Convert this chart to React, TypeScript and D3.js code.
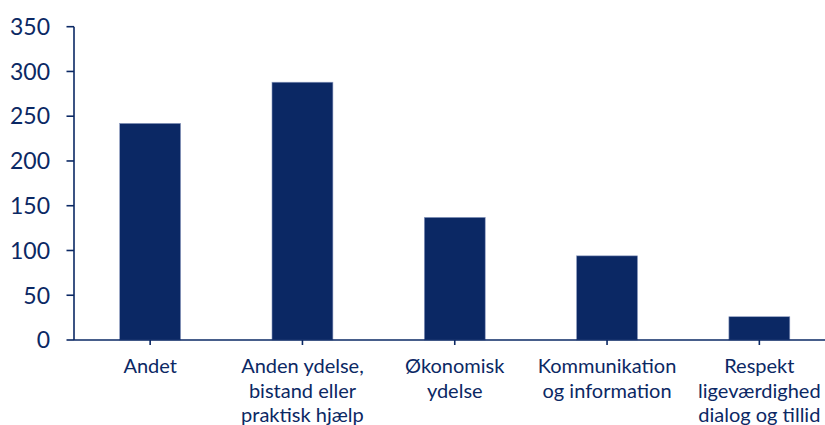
import React from "react";
import * as d3 from "d3";

const categories: string[][] = [
  ["Andet"],
  ["Anden ydelse,", "bistand eller", "praktisk hjælp"],
  ["Økonomisk", "ydelse"],
  ["Kommunikation", "og information"],
  ["Respekt", "ligeværdighed", "dialog og tillid"],
];
const values: number[] = [242, 288, 137, 94, 26];
const yTicks: number[] = [0, 50, 100, 150, 200, 250, 300, 350];

const W = 825;
const H = 425;
const NAVY = "#0b2864";
const FONT = "Lato, 'Open Sans', sans-serif";

export default function App() {
  const keys = categories.map((c) => c.join(" "));
  const x = d3
    .scaleBand<string>()
    .domain(keys)
    .range([74, 835.5])
    .paddingInner(0.6)
    .paddingOuter(0.3);
  const y = d3.scaleLinear().domain([0, 350]).range([340, 26.7]);

  return (
    <svg
      width={W}
      height={H}
      style={{ position: "absolute", left: 0, top: 0, background: "#fff" }}
    >
      {/* bars */}
      {values.map((v, i) => (
        <rect
          key={keys[i]}
          x={x(keys[i])}
          y={y(v)}
          width={x.bandwidth()}
          height={y(0) - y(v)}
          fill={NAVY}
          stroke="#8e9cc0"
          strokeWidth={0.6}
        />
      ))}
      {/* y axis */}
      <line x1={74} x2={74} y1={y(350)} y2={y(0)} stroke={NAVY} strokeWidth={1.6} />
      {yTicks.map((t) => (
        <g key={t}>
          <line x1={66.5} x2={74} y1={y(t)} y2={y(t)} stroke={NAVY} strokeWidth={1.6} />
          <text
            x={50}
            y={y(t)}
            dy="0.36em"
            textAnchor="end"
            fill={NAVY}
            fontFamily={FONT}
            fontSize={23}
          >
            {t}
          </text>
        </g>
      ))}
      {/* x axis */}
      <line x1={74} x2={W} y1={y(0)} y2={y(0)} stroke={NAVY} strokeWidth={1.6} />
      {keys.map((k, i) => {
        const cx = (x(k) as number) + x.bandwidth() / 2;
        return (
          <g key={k}>
            <line x1={cx} x2={cx} y1={y(0)} y2={y(0) + 5} stroke={NAVY} strokeWidth={1.6} />
            <text
              textAnchor="middle"
              fill={NAVY}
              fontFamily={FONT}
              fontSize={20}
            >
              {categories[i].map((line, j) => (
                <tspan key={j} x={cx} y={373 + j * 24.5}>
                  {line}
                </tspan>
              ))}
            </text>
          </g>
        );
      })}
    </svg>
  );
}
